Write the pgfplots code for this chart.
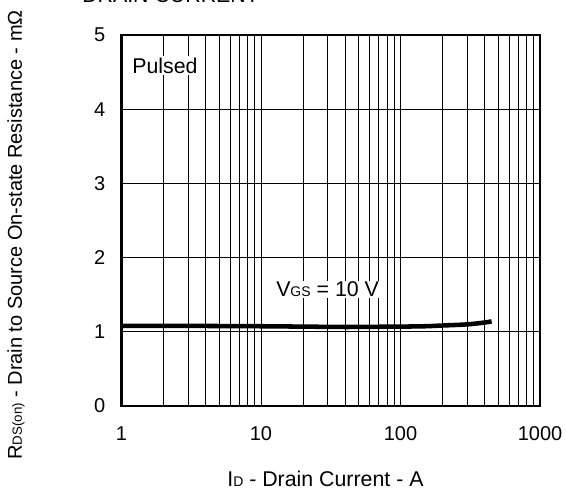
\documentclass[border=0pt]{standalone}
\usepackage{pgfplots}
\pgfplotsset{compat=1.18}
\usepackage{fontspec}
\setmainfont{Liberation Sans}
\newcommand{\sub}[1]{{\fontsize{10.5}{11}\selectfont #1}}
\begin{document}
\fontsize{16}{19}\selectfont
\begin{tikzpicture}
\begin{axis}[
    at={(0,0)}, anchor=south west,
    scale only axis,
    width=313.9pt, height=278.25pt,
    xmode=log,
    xmin=1, xmax=1000,
    ymin=0, ymax=5,
    xtick={1,10,100,1000},
    xticklabels={1,10,100,1000},
    ytick={0,1,2,3,4,5},
    major tick length=0pt, minor tick length=0pt,
    grid=both,
    major grid style={black, line width=0.6pt},
    minor grid style={black, line width=0.6pt},
    axis line style={line width=2pt},
    /pgf/number format/assume math mode=true,
    tick label style={font=\fontsize{15}{18}\selectfont, inner sep=0pt},
    xticklabel style={anchor=base, yshift=-25.5pt},
    yticklabel style={anchor=east, xshift=-12pt},
    clip=false,
    ]
\addplot[black, line width=3.4pt, smooth] coordinates {
  (1,1.08) (2,1.08) (5,1.078) (10,1.075) (20,1.07) (40,1.065) (70,1.068)
  (100,1.07) (150,1.075) (200,1.085) (300,1.10) (400,1.125) (450,1.14)
};
\node[anchor=base west, fill=white, inner sep=1pt] at (rel axis cs:0.022,0.8976) {Pulsed};
\node[anchor=base west, fill=white, inner sep=1pt] at (rel axis cs:0.366,0.294) {V\sub{GS} = 10 V};
\end{axis}
\node[anchor=base] at (153pt,-60.5pt) {I\sub{D} - Drain Current - A};
\node[rotate=90, font=\fontsize{15}{18}\selectfont] at (-79.1pt,128.25pt)
  {R{\fontsize{10}{11}\selectfont DS(on)} - Drain to Source On-state Resistance - mΩ};
\node[anchor=base west, inner sep=0pt] at (-29.6pt,302.25pt) {DRAIN CURRENT};
\pgfresetboundingbox
\path[use as bounding box] (-91.1pt,-63pt) rectangle (333.4pt,304.5pt);
\end{tikzpicture}
\end{document}
